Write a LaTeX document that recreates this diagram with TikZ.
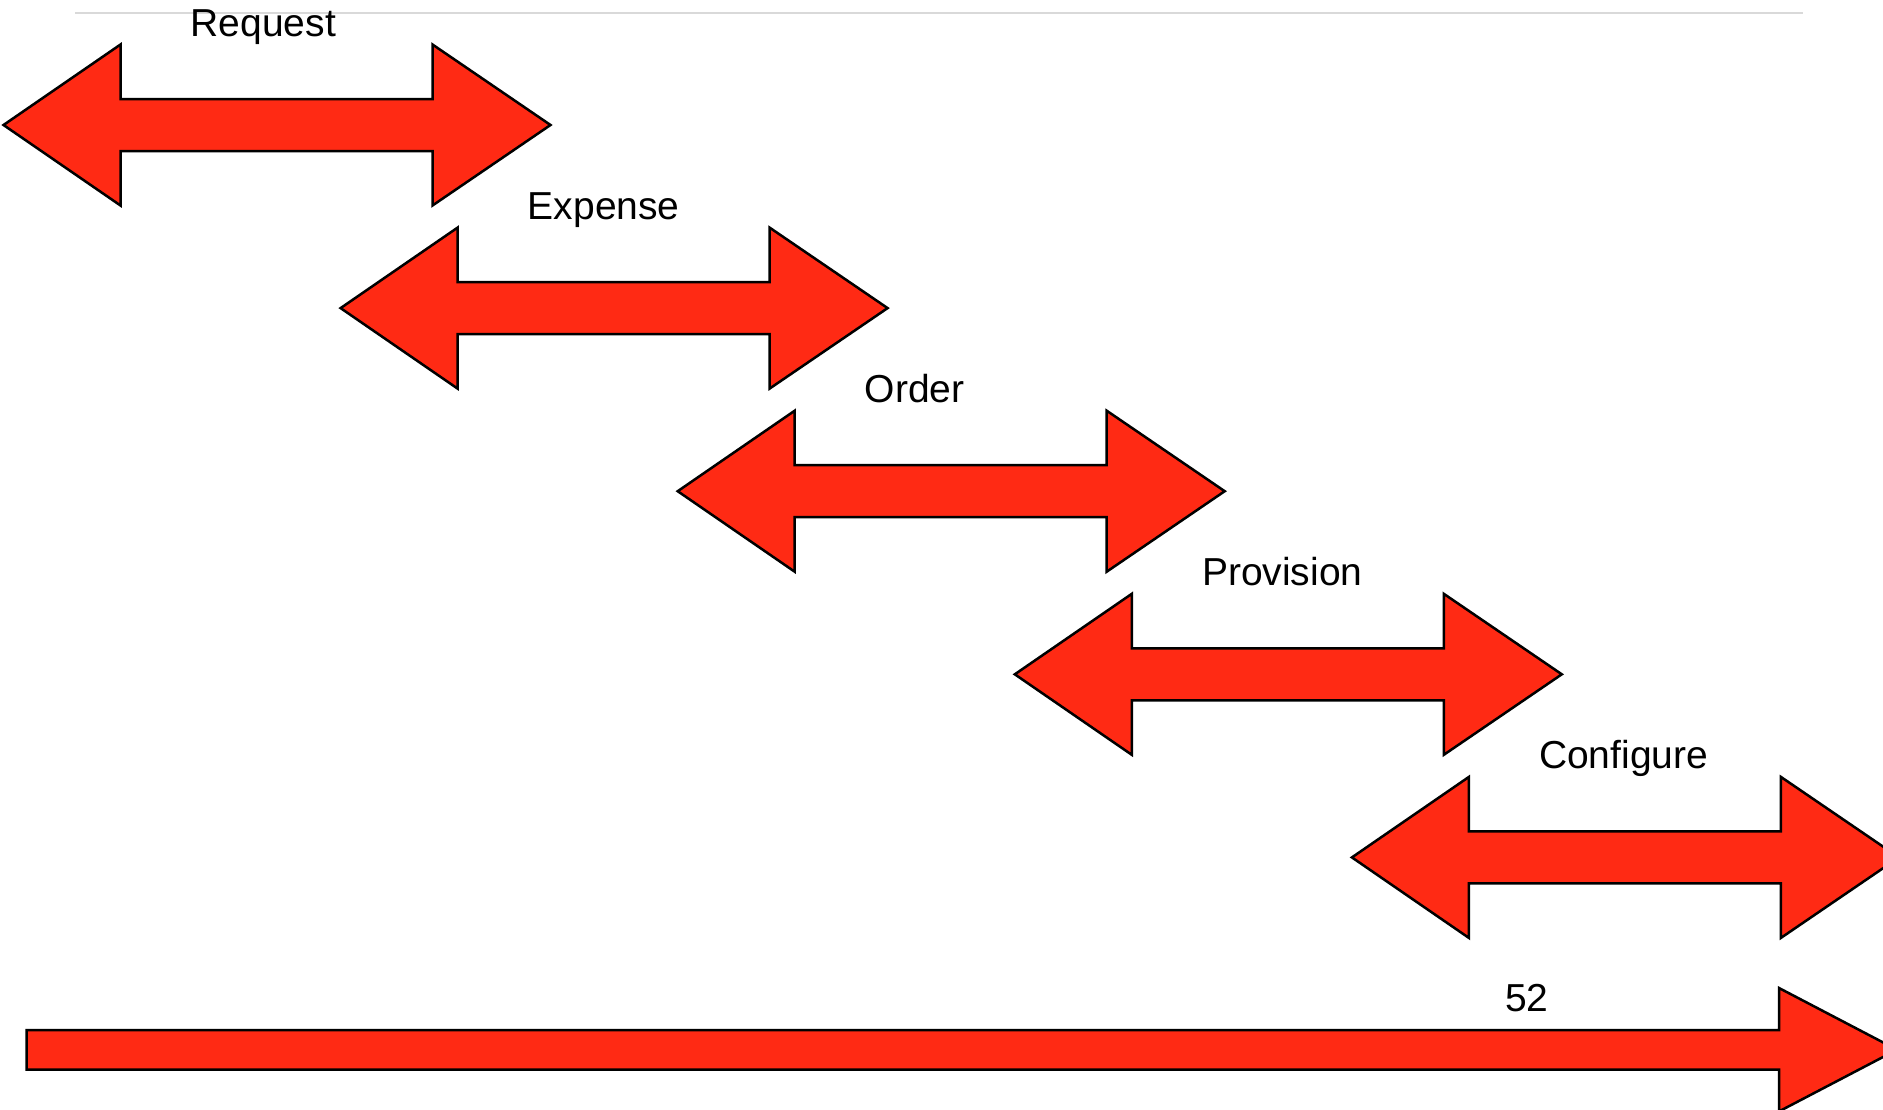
\documentclass[tikz,border=0pt]{standalone}
\usepackage{fontspec}
\setmainfont{Liberation Sans}
\definecolor{arrowred}{HTML}{FF2A14}
\definecolor{rulegray}{HTML}{D9D9D9}
\tikzset{
  blockarrow/.style={fill=arrowred, draw=black, line width=2.5pt, line join=miter},
  steplabel/.style={anchor=base west, inner sep=0pt, font=\fontsize{39}{46}\selectfont},
}
\begin{document}
\begin{tikzpicture}[x=1pt,y=-1pt]
\useasboundingbox (0,0) rectangle (1883,1109);
\clip (0,0) rectangle (1883,1109);
% thin rule along the top
\draw[rulegray, line width=2.7pt] (75,13) -- (1803,13);
% staircase of double-headed block arrows, one per phase
\foreach \name [count=\i from 0] in {Request,Expense,Order,Provision,Configure}{
  \pgfmathsetmacro{\L}{3.5+337.1*\i}
  \pgfmathsetmacro{\C}{125+183.1*\i}
  \draw[blockarrow] (\L,\C) -- ++(117,-80.5) -- ++(0,54.5) -- ++(312,0)
    -- ++(0,-54.5) -- ++(118,80.5) -- ++(-118,80.5) -- ++(0,-54.5)
    -- ++(-312,0) -- ++(0,54.5) -- cycle;
  \node[steplabel] (phase\i) at ({\L+187},{\C-89}) {\name};
}
% long timeline arrow along the bottom
\draw[blockarrow] (26.7,1030) -- (1779,1030) -- (1779,988) -- (1897,1049.7)
  -- (1779,1111.4) -- (1779,1069.5) -- (26.7,1069.5) -- cycle;
\node[steplabel] (weeks) at (1505,1011.7) {52};
\end{tikzpicture}
\end{document}
